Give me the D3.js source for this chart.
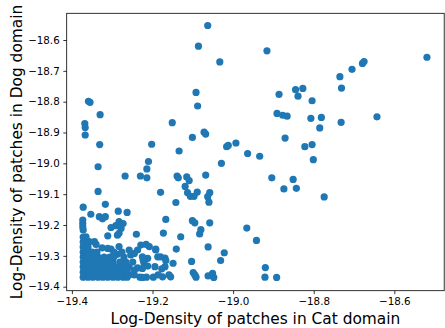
<!DOCTYPE html>
<html>
<head>
<meta charset="utf-8">
<script src="https://cdn.jsdelivr.net/npm/d3@7"></script>
<style>
  body { margin: 0; background: #fff; }
  text { font-family: "DejaVu Sans", sans-serif; fill: #000; }
</style>
</head>
<body>
<div id="vis"></div>
<script>
const width = 445;
const height = 328;

// tick values for both axes
const xTicks = [-19.4, -19.2, -19.0, -18.8, -18.6];
const yTicks = [-19.4, -19.3, -19.2, -19.1, -19.0, -18.9, -18.8, -18.7, -18.6];

// [log-density in Cat domain, log-density in Dog domain]
// scattered points away from the dense corner
const outerPoints = [
  [-19.063, -18.553], [-19.086, -18.620], [-19.033, -18.671], [-18.916, -18.635],
  [-19.092, -18.770], [-19.088, -18.814], [-19.151, -18.868], [-19.202, -18.938],
  [-19.134, -18.960], [-19.101, -18.916], [-19.072, -18.899], [-19.068, -18.905],
  [-19.016, -18.946], [-19.012, -18.942], [-18.993, -18.934], [-18.964, -18.968],
  [-18.934, -18.977], [-18.886, -18.776], [-18.891, -18.838], [-18.877, -18.844],
  [-18.866, -18.847], [-18.871, -18.918], [-19.359, -18.799], [-19.355, -18.802],
  [-19.330, -18.842], [-19.368, -18.871], [-19.367, -18.884], [-19.367, -18.908],
  [-19.331, -18.939], [-19.335, -19.011], [-19.335, -19.091], [-19.268, -19.041],
  [-19.230, -19.041], [-19.214, -19.047], [-19.214, -19.018], [-19.210, -18.994],
  [-19.139, -19.041], [-19.136, -19.047], [-19.115, -19.044], [-19.109, -19.056],
  [-19.119, -19.075], [-19.180, -19.094], [-19.113, -19.095], [-19.106, -19.107],
  [-19.097, -19.107], [-19.089, -19.093], [-19.029, -19.000], [-19.068, -19.038],
  [-19.058, -19.095], [-19.063, -19.108], [-19.060, -19.126], [-18.845, -18.761],
  [-18.827, -18.757], [-18.839, -18.782], [-18.804, -18.797], [-18.807, -18.854],
  [-18.781, -18.851], [-18.785, -18.885], [-18.732, -18.867], [-18.643, -18.849],
  [-18.822, -18.946], [-18.804, -18.939], [-18.801, -18.988], [-18.904, -19.047],
  [-18.851, -19.052], [-18.874, -19.083], [-18.843, -19.081], [-18.774, -19.109],
  [-18.519, -18.656], [-18.679, -18.676], [-18.675, -18.670], [-18.705, -18.695],
  [-18.735, -18.719], [-18.731, -18.756], [-19.101, -19.186], [-19.095, -19.193],
  [-19.080, -19.215], [-19.083, -19.229], [-19.058, -19.193], [-18.966, -19.210],
  [-18.942, -19.250], [-19.062, -19.271], [-19.022, -19.290], [-19.031, -19.315],
  [-19.103, -19.318], [-19.099, -19.354], [-19.092, -19.369], [-19.095, -19.362],
  [-19.062, -19.365], [-19.051, -19.357], [-19.048, -19.370], [-18.920, -19.338],
  [-18.921, -19.369], [-18.892, -19.370], [-19.142, -19.127], [-19.167, -19.182],
  [-19.173, -19.226], [-19.130, -19.238], [-19.141, -19.278]
];

// points around the low-density corner
const clusterPoints = [
  [-19.372, -19.142], [-19.317, -19.133], [-19.285, -19.155], [-19.263, -19.159],
  [-19.353, -19.165], [-19.332, -19.173], [-19.324, -19.180], [-19.317, -19.173],
  [-19.283, -19.189], [-19.291, -19.202], [-19.303, -19.208], [-19.273, -19.195],
  [-19.278, -19.211], [-19.283, -19.227], [-19.287, -19.233], [-19.311, -19.235],
  [-19.240, -19.230], [-19.229, -19.265], [-19.216, -19.263], [-19.208, -19.270],
  [-19.192, -19.278], [-19.258, -19.281], [-19.254, -19.297], [-19.245, -19.292],
  [-19.237, -19.281], [-19.225, -19.303], [-19.212, -19.308], [-19.221, -19.324],
  [-19.212, -19.333], [-19.192, -19.281], [-19.187, -19.303], [-19.180, -19.303],
  [-19.169, -19.307], [-19.167, -19.315], [-19.149, -19.324], [-19.169, -19.335],
  [-19.177, -19.342], [-19.194, -19.335], [-19.223, -19.314], [-19.159, -19.362],
  [-19.175, -19.368], [-19.155, -19.368], [-19.186, -19.362], [-19.198, -19.369],
  [-19.215, -19.369], [-19.231, -19.369], [-19.245, -19.362], [-19.258, -19.362],
  [-19.225, -19.370], [-19.245, -19.346], [-19.237, -19.339], [-19.225, -19.341],
  [-19.283, -19.270], [-19.287, -19.295], [-19.325, -19.274], [-19.311, -19.276],
  [-19.303, -19.278], [-19.365, -19.238], [-19.357, -19.254], [-19.344, -19.254],
  [-19.340, -19.263], [-19.373, -19.184], [-19.373, -19.195], [-19.373, -19.206],
  [-19.372, -19.216]
];

// the solid block of overlapping points in the corner
const densePoints = [
  [-19.372, -19.369], [-19.360, -19.369], [-19.348, -19.369], [-19.335, -19.369],
  [-19.323, -19.369], [-19.311, -19.369], [-19.298, -19.369], [-19.286, -19.369],
  [-19.273, -19.369], [-19.263, -19.369],
  [-19.372, -19.353], [-19.360, -19.353], [-19.348, -19.353], [-19.335, -19.353],
  [-19.323, -19.353], [-19.311, -19.353], [-19.298, -19.353], [-19.286, -19.353],
  [-19.273, -19.353], [-19.263, -19.353],
  [-19.372, -19.336], [-19.360, -19.336], [-19.348, -19.336], [-19.335, -19.336],
  [-19.323, -19.336], [-19.311, -19.336], [-19.298, -19.336], [-19.286, -19.336],
  [-19.273, -19.336], [-19.258, -19.336],
  [-19.372, -19.320], [-19.360, -19.320], [-19.348, -19.320], [-19.335, -19.320],
  [-19.323, -19.320], [-19.311, -19.320], [-19.298, -19.320], [-19.281, -19.320],
  [-19.266, -19.320], [-19.249, -19.320],
  [-19.372, -19.304], [-19.360, -19.304], [-19.348, -19.304], [-19.335, -19.304],
  [-19.320, -19.304], [-19.306, -19.304], [-19.296, -19.304], [-19.271, -19.304],
  [-19.372, -19.288], [-19.363, -19.288], [-19.350, -19.288], [-19.338, -19.288],
  [-19.296, -19.288], [-19.276, -19.288],
  [-19.372, -19.271], [-19.360, -19.271], [-19.372, -19.255], [-19.372, -19.239]
];

const margin = { left: 66.7, top: 13.3, right: 0.8, bottom: 37.3 };

let vis = d3.select('#vis')
            .append('svg')
            .attr('width', width)
            .attr('height', height);

const x = d3.scaleLinear()
            .domain([-19.4129, -18.4762])
            .range([margin.left, width - margin.right]);

const y = d3.scaleLinear()
            .domain([-19.413, -18.5134])
            .range([height - margin.bottom, margin.top]);

const fmt = d => d3.format('.1f')(d).replace('-', '\u2212');

// points
const allPoints = outerPoints.concat(clusterPoints, densePoints);
vis.append('g')
   .selectAll('circle')
   .data(allPoints)
   .enter()
   .append('circle')
   .attr('cx', d => x(d[0]))
   .attr('cy', d => y(d[1]))
   .attr('r', 3.6)
   .attr('fill', '#1f77b4');

// axes
const xAxis = vis.append('g')
                 .attr('transform', `translate(0,${height - margin.bottom})`)
                 .call(d3.axisBottom(x).tickValues(xTicks).tickFormat(fmt).tickSizeOuter(0).tickSize(3.4).tickPadding(3.4));

const yAxis = vis.append('g')
                 .attr('transform', `translate(${margin.left},0)`)
                 .call(d3.axisLeft(y).tickValues(yTicks).tickFormat(fmt).tickSizeOuter(0).tickSize(3.4).tickPadding(3.6));

[xAxis, yAxis].forEach(a => {
    a.select('.domain').remove();
    a.selectAll('line').attr('stroke', '#000').attr('stroke-width', 0.8);
    a.selectAll('text').attr('font-size', 10.3).attr('font-family', 'DejaVu Sans').attr('fill', '#000');
});

// frame
vis.append('rect')
   .attr('x', margin.left)
   .attr('y', margin.top)
   .attr('width', width - margin.right - margin.left)
   .attr('height', height - margin.bottom - margin.top)
   .attr('fill', 'none')
   .attr('stroke', '#000')
   .attr('stroke-width', 0.8);

// axis labels
vis.append('text')
   .attr('x', (margin.left + width - margin.right) / 2)
   .attr('y', 324)
   .attr('text-anchor', 'middle')
   .attr('font-size', 15.4)
   .text('Log-Density of patches in Cat domain');

vis.append('text')
   .attr('transform', `translate(21.5,${(margin.top + height - margin.bottom) / 2}) rotate(-90)`)
   .attr('text-anchor', 'middle')
   .attr('font-size', 15.4)
   .text('Log-Density of patches in Dog domain');
</script>
</body>
</html>
